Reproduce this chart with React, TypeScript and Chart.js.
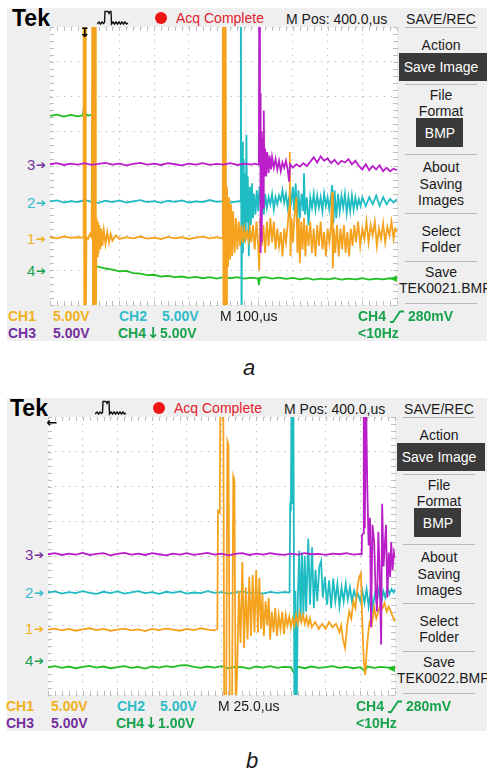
import React, { useEffect, useRef } from "react";
import { Chart, registerables } from "chart.js";
Chart.register(...registerables);

type Pt = [number, number | null];
const flat = (x0: number, step: number, ys: number[]): Pt[] =>
  ys.map((y, i) => [+(x0 + i * step).toFixed(3), y] as Pt);

// ---------- Panel a (M 100 µs/div) : x in divisions (0-10), y in divisions (-4..4)
const aCh3: Pt[] = [
  ...flat(0, 0.2, [0.05, 0.08, 0.03, 0.07, 0.04, 0.08, 0.03, 0.06, 0.09, 0.04, 0.07, 0.02, 0.06, 0.09, 0.04, 0.07, 0.03, 0.08, 0.05, 0.02, 0.07, 0.04, 0.08, 0.03, 0.06, 0.04, 0.08, 0.03, 0.07, 0.04]),
  [5.9, 0.07], [6.0, 0.04], [6.02, 0.06], [6.03, 5], [6.05, 0.6], [6.06, 2.1], [6.07, -2.5], [6.09, 1.0], [6.1, -2.2], [6.12, 0.8], [6.14, -1.2], [6.16, 1.6], [6.18, -0.3], [6.2, 0.5], [6.23, -0.3], [6.26, 0.4], [6.3, -0.2], [6.33, 0.3], [6.37, -0.1], [6.4, 0.25], [6.45, -0.05], [6.5, 0.2], [6.55, -0.1], [6.6, 0.15], [6.65, -0.15], [6.7, 0.1], [6.75, -0.05], [6.8, 0.15], [6.85, -0.1], [6.89, -0.45], [6.92, 0.05], [7.0, -0.05], [7.1, 0.05], [7.2, -0.02], [7.3, 0.08], [7.4, 0.0], [7.5, 0.12], [7.6, 0.25], [7.7, 0.1], [7.8, 0.28], [7.9, 0.15], [8.0, 0.22], [8.1, 0.08], [8.2, 0.18], [8.3, 0.05], [8.4, 0.15], [8.5, 0.1], [8.6, 0.2], [8.7, 0.05], [8.8, 0.15], [8.9, 0.0], [9.0, -0.1], [9.1, 0.05], [9.2, -0.12], [9.3, 0.0], [9.4, -0.1], [9.5, 0.02], [9.6, -0.15], [9.7, -0.05], [9.8, -0.15], [9.9, -0.08], [10, -0.12],
];

const aCh2: Pt[] = [
  ...flat(0, 0.2, [-1.02, -0.99, -1.05, -1.01, -1.04, -0.98, -1.03, -1.06, -1.0, -1.04, -0.99, -1.05, -1.02, -0.98, -1.04, -1.01, -1.06, -1.0, -1.03, -0.99, -1.05, -1.02, -1.04, -0.98, -1.03, -1.01, -1.05, -1.02]),
  [5.48, -1.02], [5.5, 5], [5.52, -5], [5.54, 0.7], [5.56, -2.5], [5.58, 0.2], [5.6, -2.2], [5.62, -0.2], [5.64, -1.9], [5.66, 0.9], [5.68, -1.6], [5.7, -0.3], [5.73, -2.6], [5.76, -0.6], [5.79, -1.7], [5.82, -0.5], [5.85, -1.5], [5.88, -0.8], [5.92, -1.4], [5.96, -0.7], [6.0, -1.3], [6.04, -0.6], [6.08, -1.2], [6.12, -0.9], [6.16, -1.4], [6.2, -0.8], [6.25, -1.2], [6.3, -0.9], [6.35, -1.1], [6.4, -0.8], [6.45, -1.25], [6.5, -0.9], [6.55, -1.1], [6.6, -0.85], [6.65, -1.0], [6.7, -0.7], [6.75, -1.05], [6.8, -0.8], [6.85, -1.2], [6.9, -0.85], [6.95, -1.05], [7.0, -0.6], [7.04, -1.3], [7.08, -0.5], [7.12, -1.6], [7.16, -0.7], [7.2, -1.5], [7.25, -0.8], [7.3, -1.3], [7.32, -0.2], [7.35, -1.4], [7.4, -0.9], [7.45, -1.7], [7.5, -0.9], [7.55, -1.2], [7.6, -0.8], [7.65, -1.25], [7.7, -0.85], [7.75, -1.2], [7.8, -0.9], [7.85, -1.3], [7.9, -0.8], [7.95, -1.15], [8.0, -0.9], [8.05, -1.25], [8.1, -0.85], [8.13, -0.55], [8.17, -1.65], [8.2, -0.7], [8.25, -1.5], [8.3, -0.8], [8.35, -1.3], [8.4, -0.85], [8.45, -1.2], [8.5, -0.8], [8.55, -1.35], [8.6, -0.9], [8.65, -1.3], [8.7, -0.85], [8.75, -1.25], [8.8, -0.9], [8.85, -1.2], [8.9, -0.95], [8.95, -1.15], [9.0, -0.9], [9.1, -1.15], [9.2, -0.9], [9.3, -1.1], [9.4, -0.85], [9.5, -1.15], [9.6, -0.9], [9.7, -1.1], [9.8, -0.95], [9.9, -1.05], [10, -0.95],
];

const aCh1: Pt[] = [
  ...flat(0, 0.2, [-2.05, -2.08, -2.03, -2.07, -2.05]),
  [0.96, -2.06], [0.97, 5], [0.99, -5], [1.01, 5], [1.03, -5], [1.05, -2.05], [1.1, -2.1], [1.15, -1.95], [1.2, -2.05], [1.22, 5], [1.24, -5], [1.26, 5], [1.28, -5], [1.3, 5], [1.32, -5], [1.34, -1.5], [1.36, -2.6], [1.38, -1.6], [1.4, -2.5], [1.42, -1.7], [1.45, -2.4], [1.48, -1.8], [1.51, -2.3], [1.55, -1.85], [1.6, -2.25], [1.65, -1.9], [1.7, -2.2], [1.75, -1.95], [1.8, -2.15], [1.9, -2.0],
  ...flat(2.0, 0.2, [-2.1, -2.05, -2.08, -2.03, -2.09, -2.06, -2.1, -2.04, -2.08, -2.05, -2.1, -2.06, -2.03, -2.08, -2.05]),
  [4.96, -2.08], [4.98, 5], [5.0, -5], [5.02, 5], [5.04, -5], [5.06, 5], [5.08, -5], [5.1, -0.6], [5.13, -2.9], [5.16, -0.9], [5.19, -2.7], [5.22, -1.1], [5.25, -2.6], [5.28, -1.3], [5.32, -2.5], [5.36, -1.5], [5.4, -2.4], [5.44, -1.6], [5.48, -2.3], [5.52, -1.7], [5.56, -2.2], [5.6, -1.8], [5.64, -2.1], [5.68, -1.9], [5.72, -2.15], [5.76, -1.8], [5.8, -2.2], [5.85, -1.7], [5.9, -2.4], [5.95, -1.6], [6.0, -2.3], [6.03, -3.0], [6.06, -1.5], [6.1, -2.3], [6.15, -1.7], [6.2, -2.5], [6.25, -1.6], [6.3, -2.3], [6.35, -1.5], [6.4, -2.2], [6.45, -1.6], [6.5, -2.4], [6.55, -1.8], [6.6, -2.3], [6.65, -1.9], [6.7, -2.6], [6.75, -1.8], [6.8, -2.2], [6.85, -1.7], [6.89, -1.2], [6.91, 0.4], [6.93, -2.6], [6.96, -1.5],
  [7.0, -2.2], [7.05, -1.4], [7.1, -0.9], [7.13, -2.5], [7.17, -1.5], [7.2, -2.8], [7.24, -1.6], [7.28, -2.4], [7.32, -1.5], [7.36, -2.6], [7.4, -1.7], [7.45, -2.3], [7.5, -1.6], [7.55, -2.5], [7.6, -1.8], [7.65, -2.6], [7.7, -1.7], [7.75, -2.3], [7.8, -1.6], [7.85, -2.4], [7.9, -1.9], [7.95, -2.6], [8.0, -1.8], [8.05, -2.2], [8.1, -1.7], [8.13, -0.75], [8.15, -2.95], [8.18, -1.8], [8.22, -2.5], [8.27, -1.7], [8.32, -2.6], [8.37, -1.8], [8.42, -2.4], [8.47, -1.7], [8.52, -2.5], [8.57, -1.9], [8.62, -2.6], [8.67, -1.8], [8.72, -2.3], [8.77, -1.7], [8.82, -2.2], [8.88, -1.6], [8.94, -2.3], [9.0, -1.8], [9.06, -2.1], [9.12, -1.6], [9.18, -2.2], [9.24, -1.7], [9.3, -2.0], [9.36, -1.6], [9.42, -2.3], [9.48, -1.8], [9.54, -2.1], [9.6, -1.65], [9.66, -2.2], [9.72, -1.75], [9.78, -2.0], [9.84, -1.6], [9.9, -2.1], [9.95, -1.8], [10, -1.9],
];

const aCh4: Pt[] = [
  ...flat(0, 0.2, [1.44, 1.48, 1.42, 1.47, 1.43]),
  [0.95, 1.46], [0.98, 1.75], [1.0, 0.9], [1.02, 1.5], [1.1, 1.45], [1.2, 1.47], [1.24, 1.42], [1.28, null], [1.34, -2.88],
  ...flat(1.4, 0.2, [-2.9, -2.95, -2.98, -3.03, -3.02, -3.08, -3.1, -3.14, -3.13, -3.18, -3.16, -3.2, -3.18, -3.22, -3.19, -3.23, -3.2, -3.24, -3.2, -3.23, -3.2, -3.24, -3.21, -3.24]),
  [6.02, -3.42], [6.05, -3.22],
  ...flat(6.2, 0.2, [-3.2, -3.24, -3.21, -3.25, -3.22, -3.26, -3.23, -3.27, -3.24, -3.26, -3.23, -3.27, -3.24, -3.26, -3.23, -3.27, -3.24, -3.26, -3.23, -3.25]),
];

// ---------- Panel b (M 25.0 µs/div)
const bCh3: Pt[] = [
  ...flat(0, 0.2, [0.05, 0.08, 0.03, 0.07, 0.04, 0.09, 0.03, 0.06, 0.08, 0.02, 0.06, 0.09, 0.04, 0.07, 0.03, 0.08, 0.05, 0.02, 0.07, 0.04, 0.08, 0.03, 0.06, 0.09, 0.04, 0.07, 0.02, 0.06, 0.08, 0.03, 0.07, 0.04, 0.08, 0.05, 0.03, 0.07, 0.04, 0.08, 0.05, 0.06, 0.03, 0.07, 0.05, 0.08, 0.04, 0.06]),
  [9.04, 0.05], [9.05, 0.6], [9.08, 0.65], [9.1, 5], [9.13, 0.8], [9.16, 5], [9.2, 2.0], [9.24, 0.3], [9.28, 1.1], [9.31, -2.05], [9.35, 0.9], [9.4, 0.4], [9.44, -1.0], [9.48, -1.6], [9.52, 0.7], [9.56, -0.5], [9.6, -2.55], [9.63, 1.5], [9.67, -0.3], [9.7, 0.2], [9.74, 0.9], [9.78, -1.2], [9.82, 0.1], [9.86, -0.6], [9.89, 0.4], [9.93, -0.4], [9.97, 0.1], [10, -0.05],
];

const bCh2: Pt[] = [
  ...flat(0, 0.2, [-1.05, -1.02, -1.08, -1.04, -1.07, -1.01, -1.06, -1.09, -1.03, -1.07, -1.02, -1.08, -1.05, -1.01, -1.07, -1.04, -1.09, -1.03, -1.06, -1.02, -1.08, -1.05, -1.07, -1.01, -1.06, -1.04, -1.08, -1.05, -1.02, -1.07, -1.04, -1.08, -1.03, -1.06, -1.04]),
  [6.96, -1.05], [6.98, 1.45], [7.0, 1.4], [7.02, 5], [7.05, 1.5], [7.07, 5], [7.1, -4.2], [7.13, -1.0], [7.16, -5], [7.2, -1.2], [7.24, 0.15], [7.28, -1.9], [7.32, 0.1], [7.36, -1.7], [7.4, 0.0], [7.44, -1.6], [7.5, 0.5], [7.55, -1.4], [7.61, 0.25], [7.66, -1.5], [7.71, -0.4], [7.76, -1.3], [7.82, -0.3], [7.87, -0.15], [7.92, -1.2], [7.98, -0.6], [8.04, -1.4], [8.1, -0.7], [8.16, -1.5], [8.22, -0.65], [8.28, -1.3], [8.34, -0.8], [8.4, -1.45], [8.46, -0.9], [8.52, -1.3], [8.58, -0.8], [8.64, -1.25], [8.7, -0.9], [8.76, -1.3], [8.82, -1.0], [8.88, -1.2], [8.94, -1.1], [9.0, -1.3], [9.06, -1.0], [9.12, -1.35], [9.18, -0.95], [9.24, -1.45], [9.3, -1.0], [9.36, -1.5], [9.42, -1.1], [9.48, -1.3], [9.54, -0.95], [9.6, -1.4], [9.66, -1.0], [9.72, -1.2], [9.78, -0.9], [9.84, -1.1], [9.9, -0.95], [9.96, -1.05], [10, -0.95],
];

const bCh1: Pt[] = [
  ...flat(0, 0.2, [-2.12, -2.09, -2.14, -2.1, -2.15, -2.11, -2.08, -2.13, -2.1, -2.15, -2.12, -2.09, -2.14, -2.11, -2.16, -2.1, -2.13, -2.09, -2.12, -2.15, -2.1, -2.13, -2.08, -2.12, -2.14]),
  [4.88, -2.1], [4.9, 1.3], [4.95, 1.25], [4.97, 5], [5.05, 5], [5.08, -5], [5.13, -5], [5.17, 3.3], [5.2, 3.2], [5.24, -5], [5.3, -5], [5.34, 2.3], [5.37, 2.2], [5.41, -4.5], [5.45, -3.35], [5.5, -1.0], [5.55, -2.5], [5.6, -0.17], [5.65, -2.65], [5.7, -0.9], [5.75, -2.4], [5.8, -0.6], [5.85, -2.3], [5.9, -0.55], [5.95, -2.2], [6.0, -0.4], [6.05, -2.2], [6.09, -0.63], [6.14, -2.1], [6.18, -1.1], [6.22, -2.3], [6.27, -1.3], [6.32, -2.0], [6.36, -1.2], [6.4, -2.4], [6.45, -1.6], [6.5, -2.2], [6.55, -1.5], [6.6, -2.3], [6.65, -1.7], [6.7, -2.1], [6.75, -1.6], [6.8, -2.25], [6.85, -1.7], [6.9, -2.0], [6.95, -1.75], [7.0, -2.05], [7.05, -1.8], [7.1, -2.0], [7.15, -1.7], [7.2, -1.95], [7.25, -1.65], [7.3, -1.9], [7.35, -1.7], [7.4, -1.95], [7.45, -1.75], [7.5, -2.0], [7.55, -1.8], [7.6, -2.05], [7.7, -1.9], [7.8, -2.1], [7.9, -1.95], [8.0, -2.1], [8.1, -1.9], [8.2, -2.05], [8.3, -1.95], [8.4, -2.2], [8.45, -2.0], [8.5, -2.4], [8.56, -2.65], [8.62, -2.0], [8.68, -1.6], [8.74, -1.8], [8.8, -1.3], [8.86, -1.5], [8.92, -0.9], [8.97, -0.6], [9.02, -0.5], [9.06, -2.0], [9.1, -3.0], [9.14, -3.42], [9.18, -2.8], [9.22, -2.3], [9.27, -1.9], [9.33, -2.0], [9.4, -1.5], [9.46, -1.8], [9.52, -1.6], [9.58, -1.4], [9.64, -1.5], [9.7, -1.35], [9.76, -1.6], [9.82, -1.45], [9.88, -1.6], [9.94, -1.75], [10, -1.9],
];

const bCh4: Pt[] = [
  ...flat(0, 0.2, [-3.2, -3.17, -3.22, -3.18, -3.23, -3.19, -3.16, -3.21, -3.18, -3.23, -3.2, -3.17, -3.22, -3.19, -3.24, -3.18, -3.21, -3.17, -3.2, -3.15, -3.14, -3.19, -3.22, -3.18, -3.21, -3.17, -3.23, -3.19, -3.2, -3.24, -3.18, -3.21, -3.17, -3.22, -3.19, -3.2]),
  [7.1, -3.38],
  ...flat(7.2, 0.2, [-3.19, -3.23, -3.18, -3.22, -3.2, -3.17, -3.22, -3.19, -3.23, -3.2]),
  [9.14, -3.32],
  ...flat(9.2, 0.2, [-3.18, -3.22, -3.19, -3.21, -3.2]),
];

// ---------- styles
const FONT = '"Liberation Sans", Arial, Helvetica, sans-serif';
const SYM = '"DejaVu Sans", sans-serif';
const C1 = "#f5a21f", C1L = "#f0b21c";
const C2 = "#1fbcc4", C2L = "#30bcc8";
const C3 = "#b91ec8", C3L = "#74309e";
const C4 = "#22bd22", C4L = "#17a24c";
const GRID = "#bdbdbd";

const scopeFrame = {
  id: "scopeFrame",
  beforeDraw(chart: any) {
    const { ctx, chartArea: a } = chart;
    ctx.save();
    ctx.fillStyle = "#ffffff";
    ctx.fillRect(a.left, a.top, a.right - a.left, a.bottom - a.top);
    ctx.restore();
  },
  beforeDatasetsDraw(chart: any) {
    const { ctx, chartArea: a, scales } = chart;
    const x = scales.x, y = scales.y;
    ctx.save();
    ctx.strokeStyle = GRID;
    ctx.lineWidth = 1;
    ctx.beginPath();
    for (let i = 0; i <= 50; i++) {
      const px = Math.round(x.getPixelForValue(i * 0.2)) + 0.5;
      ctx.moveTo(px, a.top); ctx.lineTo(px, a.top + 4);
      ctx.moveTo(px, a.bottom); ctx.lineTo(px, a.bottom - 4);
    }
    for (let i = 0; i <= 40; i++) {
      const py = Math.round(y.getPixelForValue(-4 + i * 0.2)) + 0.5;
      ctx.moveTo(a.left, py); ctx.lineTo(a.left + 4, py);
      ctx.moveTo(a.right, py); ctx.lineTo(a.right - 4, py);
    }
    ctx.stroke();
    ctx.restore();
  },
};

type Trace = { pts: Pt[]; color: string };

function ScopePlot({ left, top, w, h, traces }: { left: number; top: number; w: number; h: number; traces: Trace[] }) {
  const ref = useRef<HTMLCanvasElement>(null);
  useEffect(() => {
    const chart = new Chart(ref.current as HTMLCanvasElement, {
      type: "line",
      data: {
        datasets: traces.map((t) => ({
          data: t.pts.map(([x, y]) => ({ x, y })),
          borderColor: t.color,
          backgroundColor: t.color,
          borderWidth: 1.8,
          pointRadius: 0,
          tension: 0,
          fill: false,
          spanGaps: false,
        })),
      } as any,
      options: {
        animation: false,
        responsive: false,
        maintainAspectRatio: false,
        events: [],
        layout: { padding: 3 },
        plugins: { legend: { display: false }, tooltip: { enabled: false }, title: { display: false } },
        scales: {
          x: {
            type: "linear", min: 0, max: 10,
            ticks: { display: false, stepSize: 1 },
            grid: { color: GRID, drawTicks: false, lineWidth: 1 },
            border: { display: false, dash: [1.4, 5.55] },
          },
          y: {
            type: "linear", min: -4, max: 4,
            ticks: { display: false, stepSize: 1 },
            grid: { color: GRID, drawTicks: false, lineWidth: 1 },
            border: { display: false, dash: [1.4, 5.55] },
          },
        },
      } as any,
      plugins: [scopeFrame as any],
    });
    return () => chart.destroy();
  }, []);
  return (
    <canvas
      ref={ref}
      width={w + 6}
      height={h + 6}
      style={{ position: "absolute", left: left - 3, top: top - 3, width: w + 6, height: h + 6 }}
    />
  );
}

function Txt({ x, y, size = 14, color = "#1a1a1a", bold = false, italic = false, center = false, font = FONT, children }: any) {
  return (
    <div
      style={{
        position: "absolute", left: x, top: y, fontFamily: font, fontSize: size, lineHeight: 1,
        color, fontWeight: bold ? 700 : 400, fontStyle: italic ? "italic" : "normal", whiteSpace: "nowrap",
        transform: center ? "translate(-50%,-50%)" : "translateY(-50%)",
      }}
    >
      {children}
    </div>
  );
}

function Panel({ dx, dy, traces, timebase, ch4Scale, file, trig }: any) {
  const X = (v: number) => v + dx;
  const Y = (v: number) => v + dy;
  const mx = X(441);
  const seps = [27, 84, 154, 213, 261, 303];
  const markers = [
    { n: "3", y: 164, c: C3L },
    { n: "2", y: 202, c: C2L },
    { n: "1", y: 238, c: C1L },
    { n: "4", y: 270, c: C4L },
  ];
  return (
    <>
      <div style={{ position: "absolute", left: 7, top: Y(8), width: 480, height: 333, background: "#efefef" }} />
      <Txt x={X(12)} y={Y(18)} size={23} bold color="#000">Tek</Txt>
      <svg style={{ position: "absolute", left: X(97), top: Y(10) }} width={32} height={16}>
        <polyline
          points="0,14 2,12 3.5,14 5,12 6.5,13.5 7.5,12.5 8,1.5 11,1.5 12,3.5 13,1.5 14,1.5 14.5,14 16,12 17.5,14 19,12 20.5,14 22,12 23.5,14 25,12 26.5,14 28,12 29.5,14 31,13"
          fill="none" stroke="#111" strokeWidth={1.4}
        />
      </svg>
      <div style={{ position: "absolute", left: X(155), top: Y(12), width: 12, height: 12, borderRadius: "50%", background: "#ee1414" }} />
      <Txt x={X(176)} y={Y(18)} color="#e3202b">Acq Complete</Txt>
      <Txt x={X(286)} y={Y(19)}>M Pos: 400.0,us</Txt>
      <Txt x={mx} y={Y(19)} center>SAVE/REC</Txt>
      {seps.map((s) => (
        <div key={s} style={{ position: "absolute", left: X(405), top: Y(s), width: 72, height: 1, background: "#b8b8b8" }} />
      ))}
      <Txt x={mx} y={Y(45)} center>Action</Txt>
      <div style={{ position: "absolute", left: X(399), top: Y(53), width: 88, height: 28, background: "#3a3a3a" }} />
      <Txt x={mx} y={Y(67)} center color="#ffffff">Save Image</Txt>
      <Txt x={mx} y={Y(95)} center>File</Txt>
      <Txt x={mx} y={Y(111)} center>Format</Txt>
      <div style={{ position: "absolute", left: X(416), top: Y(118), width: 47, height: 29, background: "#3a3a3a" }} />
      <Txt x={X(440)} y={Y(133)} center color="#ffffff">BMP</Txt>
      <Txt x={mx} y={Y(167)} center>About</Txt>
      <Txt x={mx} y={Y(184)} center>Saving</Txt>
      <Txt x={mx} y={Y(200)} center>Images</Txt>
      <Txt x={mx} y={Y(231)} center>Select</Txt>
      <Txt x={mx} y={Y(247)} center>Folder</Txt>
      <Txt x={mx} y={Y(272)} center>Save</Txt>
      <Txt x={X(399)} y={Y(288)}>{file}</Txt>

      <ScopePlot left={X(50)} top={Y(27)} w={347} h={278} traces={traces} />

      {markers.map((m) => (
        <React.Fragment key={m.n}>
          <Txt x={X(27)} y={Y(m.y)} size={15} color={m.c}>{m.n}</Txt>
          <Txt x={X(36)} y={Y(m.y + 0.5)} size={12} color={m.c} font={SYM}>➔</Txt>
        </React.Fragment>
      ))}
      <Txt x={X(trig.x)} y={Y(trig.y)} size={13} center bold color="#000" font={SYM}>{trig.ch}</Txt>
      <Txt x={X(390)} y={Y(278)} size={9} color={C4} font={SYM}>◀</Txt>

      <Txt x={X(8)} y={Y(316)} bold color={C1L}>CH1</Txt>
      <Txt x={X(53)} y={Y(316)} bold color={C1L}>5.00V</Txt>
      <Txt x={X(119)} y={Y(316)} bold color={C2L}>CH2</Txt>
      <Txt x={X(162)} y={Y(316)} bold color={C2L}>5.00V</Txt>
      <Txt x={X(220)} y={Y(316)}>{timebase}</Txt>
      <Txt x={X(358)} y={Y(316)} bold color={C4L}>CH4</Txt>
      <svg style={{ position: "absolute", left: X(390), top: Y(310) }} width={14} height={13}>
        <polyline points="0,12 3,12 10,1.5 14,1.5" fill="none" stroke={C4L} strokeWidth={1.8} />
      </svg>
      <Txt x={X(408)} y={Y(316)} bold color={C4L}>280mV</Txt>

      <Txt x={X(8)} y={Y(333)} bold color={C3L}>CH3</Txt>
      <Txt x={X(53)} y={Y(333)} bold color={C3L}>5.00V</Txt>
      <Txt x={X(118)} y={Y(333)} bold color={C4L}>CH4</Txt>
      <Txt x={X(147)} y={Y(333)} size={15} bold color={C4L} font={SYM}>↓</Txt>
      <Txt x={X(160)} y={Y(333)} bold color={C4L}>{ch4Scale}</Txt>
      <Txt x={X(358)} y={Y(333)} bold color={C4L}>&lt;10Hz</Txt>
    </>
  );
}

export default function App() {
  const tracesA: Trace[] = [
    { pts: aCh3, color: C3 },
    { pts: aCh1, color: C1 },
    { pts: aCh2, color: C2 },
    { pts: aCh4, color: C4 },
  ];
  const tracesB: Trace[] = [
    { pts: bCh3, color: C3 },
    { pts: bCh1, color: C1 },
    { pts: bCh2, color: C2 },
    { pts: bCh4, color: C4 },
  ];
  return (
    <div style={{ position: "absolute", left: 0, top: 0, width: 487, height: 771, overflow: "hidden", background: "#ffffff" }}>
      <Panel dx={0} dy={0} traces={tracesA} timebase="M 100,us" ch4Scale="5.00V" file="TEK0021.BMP" trig={{ x: 85, y: 32, ch: "↧" }} />
      <Txt x={249} y={368} size={22} italic center>a</Txt>
      <Panel dx={-2} dy={390} traces={tracesB} timebase="M 25.0,us" ch4Scale="1.00V" file="TEK0022.BMP" trig={{ x: 54, y: 32, ch: "←" }} />
      <Txt x={252} y={761} size={22} italic center>b</Txt>
    </div>
  );
}
